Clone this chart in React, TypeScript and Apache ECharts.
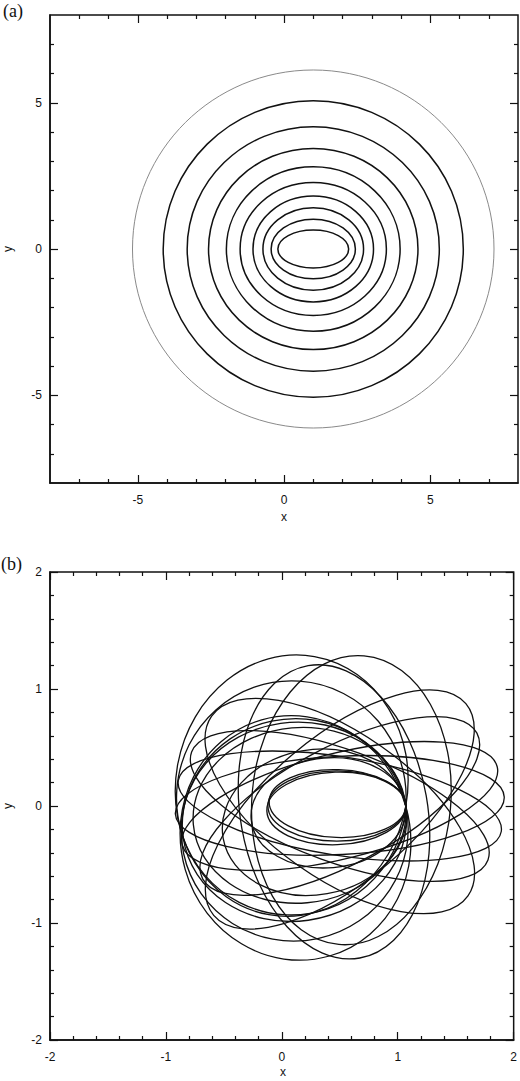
import React, { useEffect, useRef } from "react";
import * as echarts from "echarts";

// Panel (a): contour ellipses centred at (1, 0): semi-axes along x and y
const contourCx = [1, 1, 1, 1, 1, 1, 1, 1, 1, 1];
const contourA = [6.18, 5.13, 4.31, 3.58, 2.97, 2.5, 2.06, 1.72, 1.44, 1.21];
const contourB = [6.12, 5.07, 4.18, 3.44, 2.81, 2.27, 1.81, 1.41, 1.02, 0.65];

// Panel (b): loops of the orbit as ellipses: centre x, centre y, semi-axis a, semi-axis b, tilt (deg)
const loopCx = [0.475, 0.47, 0.48, 0.403, 0.282, 0.153, 0.109, 0.111, 0.082, 0.085, 0.118, 0.5, 0.5, 0.5, 0.5, 0.5, 0.6, 0.45, 0.5, 0.5];
const loopCy = [0, -0.021, 0.021, -0.058, -0.139, -0.08, -0.135, -0.204, 0.069, 0.174, -0.273, 0.005, 0, 0, 0, 0, 0.05, -0.05, -0.03, 0];
const loopA = [0.595, 0.6, 0.59, 0.67, 0.8, 0.92, 0.97, 0.98, 0.99, 1.0, 0.99, 1.42, 1.4, 1.34, 1.41, 1.36, 1.25, 1.28, 1.42, 1.35];
const loopB = [0.3, 0.31, 0.29, 0.47, 0.62, 0.75, 0.85, 0.95, 1.0, 1.12, 1.05, 0.42, 0.45, 0.5, 0.42, 0.48, 0.85, 0.8, 0.62, 0.62];
const loopTilt = [180, 182, 178, 185, 190, 185, 188, 192, 176, 170, 196, 3, 14, 28, -9, -20, 85, 100, 40, -35];

const aMajor = [-5, 0, 5];
const aMinor = [-7, -6, -4, -3, -2, -1, 1, 2, 3, 4, 6, 7];

const FONT = "'Liberation Sans', Arial, Helvetica, sans-serif";

function ellipseItem(color: string, width: number) {
  return (params: any, api: any) => {
    const cx = api.value(0);
    const cy = api.value(1);
    const a = api.value(2);
    const b = api.value(3);
    const tilt = api.value(4);
    const c = api.coord([cx, cy]);
    const rx = api.size([a, 0])[0];
    const ry = api.size([0, b])[1];
    return {
      type: "ellipse",
      x: c[0],
      y: c[1],
      rotation: (tilt * Math.PI) / 180,
      shape: { cx: 0, cy: 0, rx, ry },
      style: { fill: "none", stroke: color, lineWidth: width },
    };
  };
}

export default function App() {
  const ref = useRef<HTMLDivElement>(null);
  useEffect(() => {
    if (!ref.current) return;
    const chart = echarts.init(ref.current, undefined, { renderer: "svg" });

    const gridA = { left: 50, top: 15, width: 468, height: 468 };
    const gridB = { left: 50, top: 572, width: 467, height: 468 };

    const lbl = { color: "#111", fontFamily: FONT, fontSize: 12 };

    const mkAxes = (gi: number, kind: "x" | "y", aPanel: boolean) => {
      const axes: any[] = [];
      const sides = kind === "x" ? ["bottom", "top"] : ["left", "right"];
      sides.forEach((pos, si) => {
        if (aPanel) {
          axes.push({
            type: "value",
            gridIndex: gi,
            position: pos,
            min: -8,
            max: 8,
            axisLine: { show: si === 0, onZero: false, lineStyle: { color: "#111", width: 1.5 } },
            axisTick: { show: true, inside: true, length: 4, customValues: aMinor, lineStyle: { color: "#111", width: 1.2 } },
            axisLabel: { show: false },
            splitLine: { show: false },
          });
          axes.push({
            type: "value",
            gridIndex: gi,
            position: pos,
            min: -8,
            max: 8,
            axisLine: { show: false, onZero: false },
            axisTick: { show: true, inside: true, length: 8, customValues: aMajor, lineStyle: { color: "#111", width: 1.2 } },
            axisLabel: { show: si === 0, customValues: aMajor, margin: kind === "x" ? 11 : 8, ...lbl },
            splitLine: { show: false },
          });
        } else {
          axes.push({
            type: "value",
            gridIndex: gi,
            position: pos,
            min: -2,
            max: 2,
            interval: 1,
            axisLine: { show: si === 0, onZero: false, lineStyle: { color: "#111", width: 1.5 } },
            axisTick: { show: true, inside: true, length: 8, lineStyle: { color: "#111", width: 1.2 } },
            minorTick: { show: true, splitNumber: 5, length: 4, lineStyle: { color: "#111", width: 1.2 } },
            axisLabel: { show: si === 0, margin: kind === "x" ? 11 : 8, showMinLabel: true, showMaxLabel: true, ...lbl },
            splitLine: { show: false },
          });
        }
      });
      return axes;
    };

    const xAxes = [...mkAxes(0, "x", true), ...mkAxes(1, "x", false)];
    const yAxes = [...mkAxes(0, "y", true), ...mkAxes(1, "y", false)];

    const dataA = contourA.map((a, i) => [contourCx[i], 0, a, contourB[i], 0]);
    const dataB = loopA.map((a, i) => [loopCx[i], loopCy[i], a, loopB[i], loopTilt[i]]);

    const nameText = (text: string, x: number, y: number, rot: number) => ({
      type: "text",
      x,
      y,
      rotation: rot,
      style: { text, fontFamily: FONT, fontSize: 12, fill: "#111", align: "center", verticalAlign: "middle" },
    });

    chart.setOption({
      animation: false,
      backgroundColor: "#fff",
      grid: [
        { ...gridA, show: true, borderColor: "#111", borderWidth: 1.5, backgroundColor: "transparent" },
        { ...gridB, show: true, borderColor: "#111", borderWidth: 1.5, backgroundColor: "transparent" },
      ],
      xAxis: xAxes,
      yAxis: yAxes,
      graphic: [
        { type: "text", left: 3, top: 2, style: { text: "(a)", font: "18px 'Liberation Serif', 'Times New Roman', serif", fill: "#111" } },
        { type: "text", left: 1, top: 555, style: { text: "(b)", font: "18px 'Liberation Serif', 'Times New Roman', serif", fill: "#111" } },
        nameText("x", 284, 517, 0),
        nameText("y", 8, 249, Math.PI / 2),
        nameText("x", 283, 1072, 0),
        nameText("y", 8, 806, Math.PI / 2),
      ],
      series: [
        { type: "custom", xAxisIndex: 0, yAxisIndex: 0, clip: true, data: dataA.slice(0, 1), renderItem: ellipseItem("#8a8a8a", 1) },
        { type: "custom", xAxisIndex: 0, yAxisIndex: 0, clip: true, data: dataA.slice(1), renderItem: ellipseItem("#111", 1.5) },
        { type: "custom", xAxisIndex: 4, yAxisIndex: 4, clip: true, data: dataB, renderItem: ellipseItem("#111", 1.3) },
      ],
    });
    return () => chart.dispose();
  }, []);
  return <div ref={ref} style={{ position: "absolute", left: 0, top: 0, width: 520, height: 1081 }} />;
}
